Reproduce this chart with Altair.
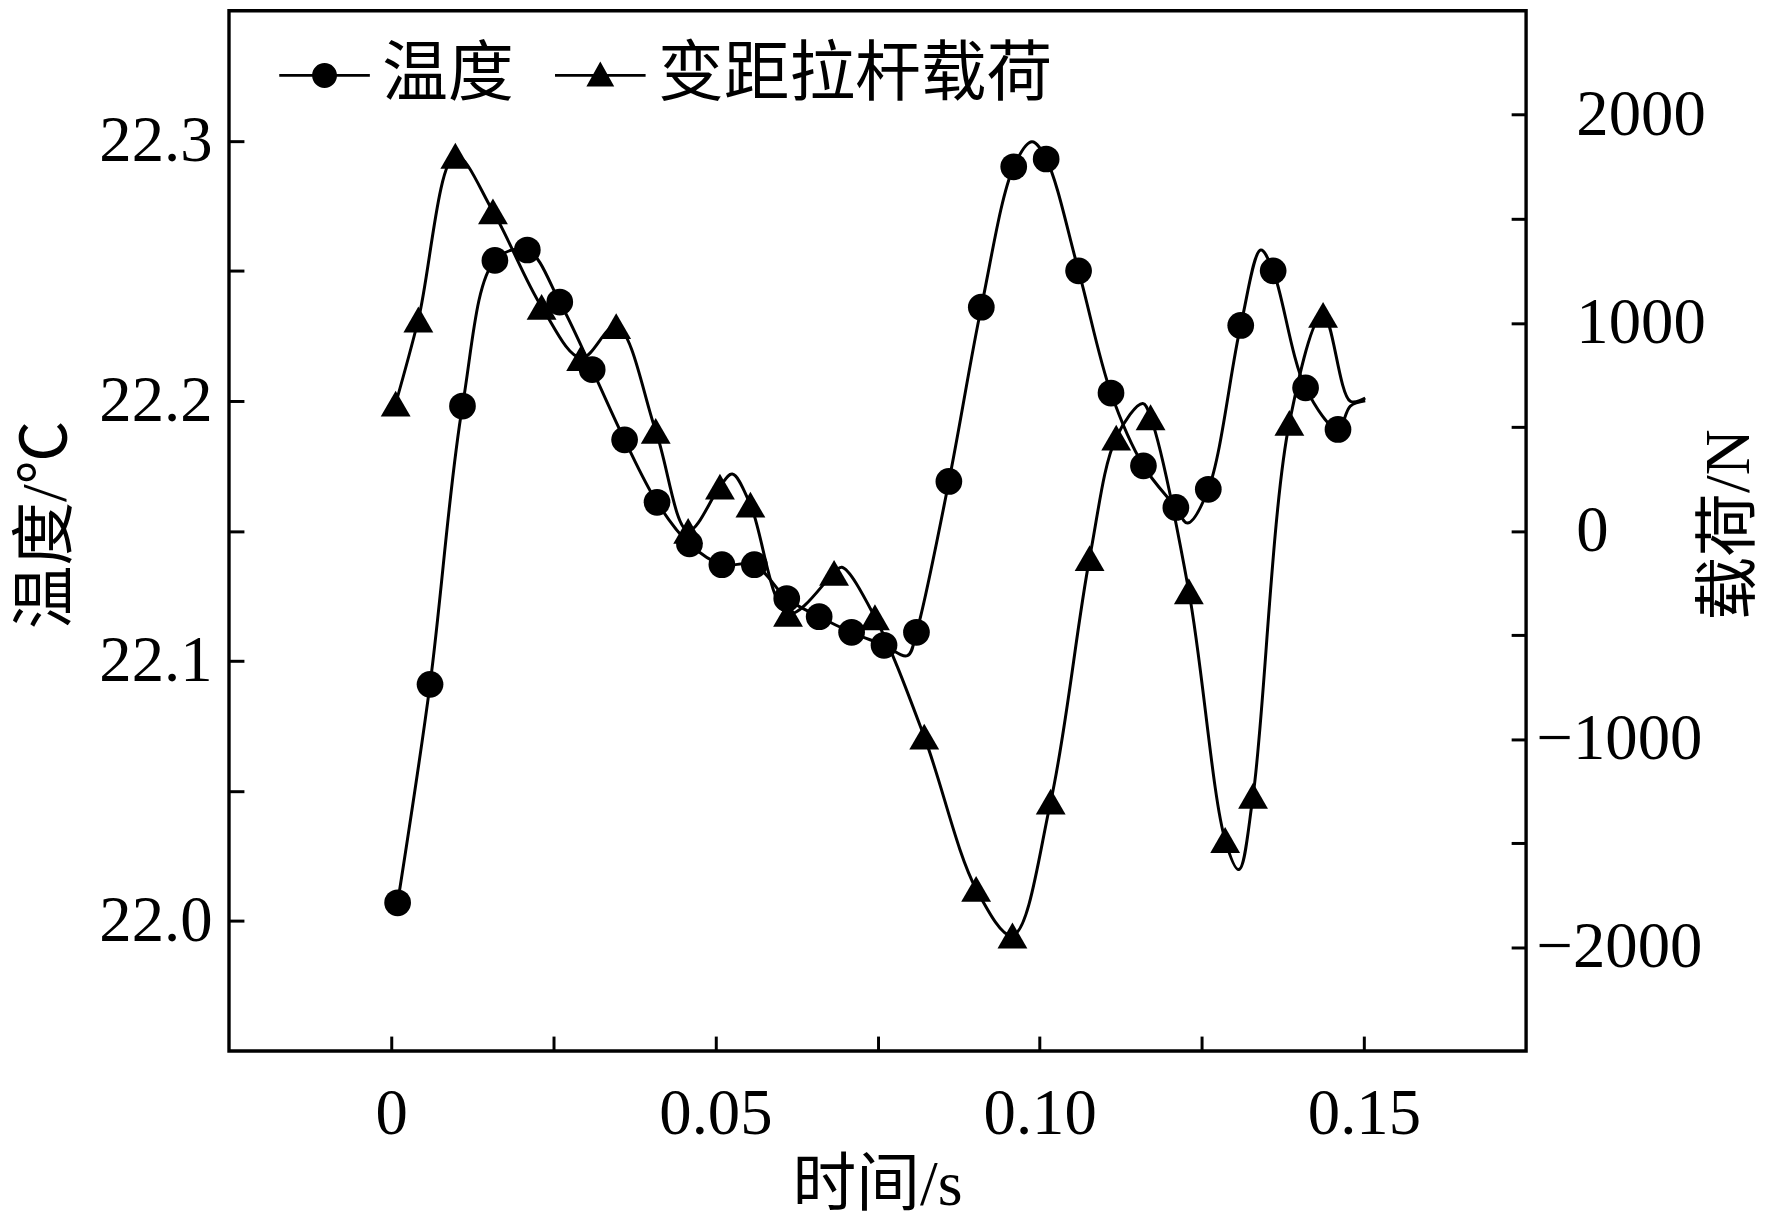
import altair as alt
import pandas as pd

# ---- data ----
temp_t = [0.001, 0.006, 0.011, 0.016, 0.021, 0.026, 0.031, 0.036, 0.041, 0.046,
          0.051, 0.056, 0.061, 0.066, 0.071, 0.076, 0.081, 0.086, 0.091, 0.096,
          0.101, 0.106, 0.111, 0.116, 0.121, 0.126, 0.131, 0.136, 0.141, 0.146]
temp_v = [22.007, 22.091, 22.198, 22.254, 22.258, 22.238, 22.212, 22.185, 22.161, 22.145,
          22.137, 22.137, 22.124, 22.117, 22.111, 22.106, 22.111, 22.169, 22.236, 22.290,
          22.293, 22.250, 22.203, 22.175, 22.159, 22.166, 22.229, 22.250, 22.205, 22.189]
# extra vertices of the smooth temperature curve (no marker)
temp_curve_t = [0.0796, 0.0988, 0.1228, 0.1341, 0.1479, 0.1502]
temp_curve_v = [22.102, 22.2996, 22.153, 22.258, 22.198, 22.200]

load_t = [0.0007, 0.0042, 0.0099, 0.0157, 0.0232, 0.0293, 0.0347, 0.0408, 0.0458, 0.0507,
          0.0554, 0.0612, 0.0683, 0.0746, 0.0822, 0.0902, 0.0958, 0.1017, 0.1077, 0.1118,
          0.1171, 0.1230, 0.1286, 0.1329, 0.1385, 0.1437]
load_v = [612, 1016, 1803, 1536, 1077, 831, 984, 481, 0, 213,
          126, -399, -202, -415, -989, -1721, -1945, -1301, -131, 448,
          546, -290, -1486, -1273, 519, 1038]
# extra vertices of the smooth load curve (no marker)
load_curve_t = [0.0526, 0.0695, 0.1159, 0.1307, 0.1479, 0.1502]
load_curve_v = [273, -175, 612, -1628, 623, 639]

series_names = ["温度", "变距拉杆载荷"]

x_ticks = [0, 0.025, 0.05, 0.075, 0.1, 0.125, 0.15]
t_ticks = [22.0, 22.05, 22.1, 22.15, 22.2, 22.25, 22.3]
l_ticks = [-2000, -1500, -1000, -500, 0, 500, 1000, 1500, 2000]

# ---- tables ----
temp_pts = pd.DataFrame({"t": temp_t, "v": temp_v})
temp_line = pd.concat([temp_pts, pd.DataFrame({"t": temp_curve_t, "v": temp_curve_v})]).sort_values("t")
load_pts = pd.DataFrame({"t": load_t, "v": load_v})
load_line = pd.concat([load_pts, pd.DataFrame({"t": load_curve_t, "v": load_curve_v})]).sort_values("t")
legend_df = pd.DataFrame({"series": series_names, "t": [temp_t[0]] * 2, "v": [temp_v[0]] * 2})

SERIF = "Liberation Serif, Noto Sans CJK SC"
TICK = 15

x_enc = alt.X(
    "t:Q",
    scale=alt.Scale(domain=[-0.025, 0.175], nice=False, zero=False),
    axis=alt.Axis(
        values=x_ticks, title="时间/s", offset=-TICK, tickSize=TICK,
        labelExpr="datum.value == 0 ? '0' : (round(datum.value*1000) % 50 != 0 ? '' : format(datum.value, '.2f'))",
        labelPadding=32, titleX=651, titleY=150, titleBaseline="middle", titleAlign="center",
    ),
)

y_temp = alt.Y(
    "v:Q",
    scale=alt.Scale(domain=[21.95, 22.35], nice=False, zero=False),
    axis=alt.Axis(
        values=t_ticks, title="温度/℃", orient="left", offset=-TICK, tickSize=TICK,
        labelExpr="round(datum.value*100) % 10 != 0 ? '' : format(datum.value, '.1f')",
        labelPadding=17, titleAngle=270, titleX=-198, titleY=516,
        titleBaseline="middle", titleAlign="center",
    ),
)

y_load = alt.Y(
    "v:Q",
    scale=alt.Scale(domain=[-2500, 2500], nice=False, zero=False),
    axis=alt.Axis(
        values=l_ticks, title="载荷/N", orient="right", offset=-TICK, tickSize=TICK,
        labelExpr="datum.value % 1000 != 0 ? '' : format(datum.value, 'd')",
        labelPadding={"condition": {"test": "datum.value < 0", "value": 10}, "value": 50},
        titleAngle=270, titleX=219, titleY=516, titleBaseline="middle", titleAlign="center",
    ),
)

# legend glyphs: short line with the marker in its middle (all filled shapes)
circ_path = ("M-1.82,-0.055H-0.45V0.055H-1.82Z M0.45,-0.055H1.82V0.055H0.45Z "
             "M0.5,0A0.5,0.5,0,1,1,-0.5,0A0.5,0.5,0,1,1,0.5,0Z")
tri_path = ("M-1.82,-0.055H-0.28V0.055H-1.82Z M0.28,-0.055H1.82V0.055H0.28Z "
            "M0,-0.56L0.56,0.44L-0.56,0.44Z")

temp_layer = alt.layer(
    alt.Chart(temp_line).mark_line(interpolate="catmull-rom", color="black", strokeWidth=3)
    .encode(x=x_enc, y=y_temp),
    alt.Chart(temp_pts).mark_point(shape="circle", filled=True, color="black", size=720, opacity=1)
    .encode(x=x_enc, y=y_temp),
    alt.Chart(legend_df).mark_point(filled=True, color="black", opacity=0)
    .encode(
        x=x_enc, y=y_temp,
        shape=alt.Shape(
            "series:N",
            scale=alt.Scale(domain=series_names, range=[circ_path, tri_path]),
            legend=alt.Legend(
                title=None, orient="none", legendX=63, legendY=32, direction="horizontal",
                symbolSize=2500, symbolStrokeWidth=0, symbolFillColor="black",
                symbolOpacity=1, labelLimit=1000,
                labelFont=SERIF, labelFontSize=66, labelColor="black",
                labelOffset=25, columnPadding=41, padding=0,
            ),
        ),
    ),
)

load_layer = alt.layer(
    alt.Chart(load_line).mark_line(interpolate="catmull-rom", color="black", strokeWidth=3)
    .encode(x=x_enc, y=y_load),
    alt.Chart(load_pts).mark_point(shape="triangle-up", filled=True, color="black", size=900, opacity=1)
    .encode(x=x_enc, y=y_load),
)

chart = (
    alt.layer(temp_layer, load_layer)
    .resolve_scale(y="independent")
    .properties(
        width=1303, height=1045,
        autosize=alt.AutoSizeParams(type="none"),
        padding={"left": 222, "top": 0, "right": 239, "bottom": 170},
        background="white",
    )
    .configure_view(stroke="black", strokeWidth=3.4)
    .configure_axis(
        grid=False, domain=False, tickColor="black", tickWidth=3,
        labelFont=SERIF, labelFontSize=65, labelColor="black",
        titleFont=SERIF, titleFontSize=64, titleColor="black", titleFontWeight="normal",
    )
)

chart.save("out.html", embed_options={"renderer": "svg", "actions": False})
